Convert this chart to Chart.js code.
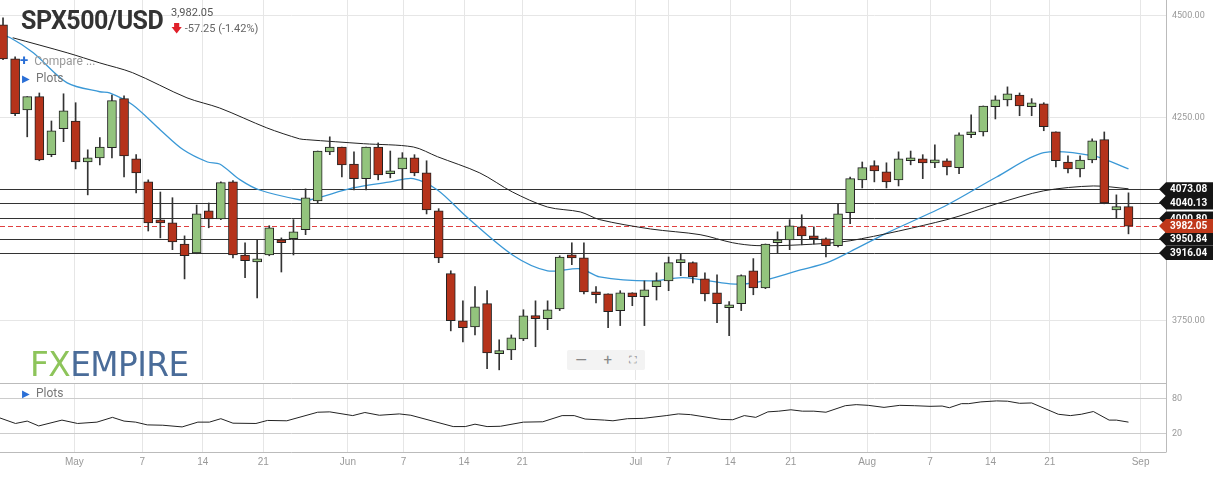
<!DOCTYPE html>
<html><head><meta charset="utf-8">
<script src="https://cdn.jsdelivr.net/npm/chart.js@4.4.0/dist/chart.umd.min.js"></script>
<style>
body{margin:0;background:#fff;width:1216px;height:478px;overflow:hidden;font-family:Roboto,"Open Sans",sans-serif;position:relative}
#c1{position:absolute;left:0;top:0}
#c2{position:absolute;left:0;top:380px}
.t{position:absolute;white-space:nowrap}
</style></head><body>
<canvas id="c1" width="1216" height="380"></canvas>
<canvas id="c2" width="1216" height="98"></canvas>
<div class="t" style="left:21px;top:6px;font-size:25px;font-weight:bold;color:#333;letter-spacing:-0.5px">SPX500/USD</div>
<div class="t" style="left:171px;top:6px;font-size:11px;color:#555">3,982.05</div>
<div class="t" style="left:171px;top:20px;font-size:11px;color:#666"><span style="color:#e0202a">&#129095;</span> -57.25 (-1.42%)</div>
<div class="t" style="left:20px;top:51px;font-size:12px;color:#999"><span style="color:#2a6fd6;font-weight:bold;font-size:15px">+</span>&nbsp; Compare ...</div>
<div class="t" style="left:22px;top:71px;font-size:12px;color:#777"><span style="color:#2a6fd6;font-size:10px">&#9654;</span>&nbsp; Plots</div>
<div class="t" style="left:22px;top:386px;font-size:12px;color:#777"><span style="color:#2a6fd6;font-size:10px">&#9654;</span>&nbsp; Plots</div>
<div class="t" style="left:30px;top:344px;font-size:34px;font-family:'Liberation Sans Narrow','DejaVu Sans Condensed',sans-serif;transform:scaleX(1.07);transform-origin:left;letter-spacing:-0.5px"><span style="color:#8dc45a">FX</span><span style="color:#4a6c99">EMPIRE</span></div>
<div class="t" style="left:567px;top:350px;width:78px;height:20px;background:#f3f3f3;border-radius:2px;font-size:15px;color:#888;display:flex;justify-content:space-around;align-items:center"><span>&#8212;</span><span>+</span><span style="font-size:11px">&#9974;</span></div>
<script>
const opens=[4478,4394,4268,4301,4158,4222,4241,4140,4150,4175,4296,4148,4091,3995,3990,3938,3916,4020,4000,4091,3911,3894,3911,3946,3951,3973,4044,4165,4177,4135,4099,4177,4111,4123,4150,4113,4020,3865,3749,3734,3791,3668,3677,3704,3759,3754,3778,3911,3904,3818,3815,3774,3818,3808,3833,3847,3892,3892,3852,3818,3781,3791,3872,3830,3941,3948,3980,3956,3951,3934,4015,4096,4131,4116,4096,4143,4148,4138,4143,4126,4207,4214,4276,4293,4305,4276,4283,4214,4140,4123,4145,4195,4022,4030];
const highs=[4495,4399,4301,4310,4241,4308,4286,4170,4200,4305,4303,4158,4096,4066,4052,3958,4034,4039,4091,4094,3941,3948,3983,3953,3998,4074,4167,4202,4177,4165,4177,4187,4167,4163,4158,4143,4025,3872,3798,3833,3823,3702,3714,3776,3798,3798,3909,3941,3941,3833,3815,3823,3818,3847,3867,3906,3914,3894,3867,3862,3796,3862,3902,3938,3968,3998,4010,3980,3953,4037,4103,4140,4143,4138,4165,4167,4158,4182,4148,4212,4256,4278,4303,4325,4310,4296,4286,4214,4155,4155,4197,4214,4059,4064];
const lows=[4392,4254,4202,4143,4153,4190,4123,4059,4133,4150,4103,4064,3970,3953,3924,3852,3914,3978,3998,3904,3855,3805,3909,3869,3911,3961,4039,4158,4103,4071,4071,4096,4101,4074,4106,4012,3892,3724,3697,3714,3631,3628,3653,3700,3685,3727,3774,3887,3815,3793,3732,3737,3786,3737,3800,3823,3860,3842,3798,3744,3712,3774,3813,3828,3916,3924,3936,3938,3906,3931,3988,4076,4091,4076,4081,4133,4099,4126,4108,4111,4200,4204,4246,4278,4254,4254,4217,4128,4113,4103,4138,4037,4002,3963];
const closes=[4394,4259,4301,4145,4217,4266,4140,4150,4177,4291,4155,4113,3990,3990,3943,3909,4012,4000,4089,3911,3897,3899,3978,3941,3968,4052,4167,4177,4133,4099,4177,4108,4118,4150,4113,4022,3904,3749,3732,3783,3670,3672,3707,3761,3754,3776,3906,3904,3820,3813,3771,3818,3808,3825,3847,3892,3899,3857,3815,3791,3786,3860,3830,3938,3946,3983,3958,3951,3934,4012,4099,4126,4118,4091,4148,4148,4138,4145,4128,4207,4214,4278,4293,4308,4278,4286,4227,4143,4123,4145,4192,4039,4030,3982];
const maFastX=[-0.25,0.6,2.5,5.3,8.0,8.8,10.7,13.0,14.9,16.9,17.9,19.6,21.2,24.5,25.4,28.9,32.0,33.9,35.9,38.3,42.1,45.0,47.7,49.3,53.5,56.2,60.1,62.0,65.9,68.1,70.0,73.1,78.0,82.1,86.0,90.1,93.0];
const maFastY=[4453,4446,4409,4335,4313,4310,4281,4219,4170,4140,4135,4096,4071,4047,4047,4076,4091,4099,4071,4005,3911,3872,3877,3857,3847,3855,3840,3842,3874,3892,3919,3966,4034,4103,4163,4155,4123];
const maSlowX=[0.8,5.3,8.0,10.7,15.2,17.9,21.8,24.5,25.1,29.8,33.9,35.9,39.4,42.1,45.0,47.7,49.3,53.5,57.6,60.3,62.3,65.9,70.0,78.0,82.1,86.0,90.1,93.0];
const maSlowY=[4446,4409,4384,4360,4298,4273,4224,4197,4195,4185,4177,4153,4113,4066,4029,4017,3998,3975,3961,3941,3934,3936,3946,3998,4037,4069,4081,4074];
const oscX=[-0.25,1.03,2.0,2.95,4.87,6.16,7.76,9.04,10.0,10.96,11.92,13.2,14.8,16.1,17.05,18.0,19.0,20.9,21.85,23.45,26.0,27.0,28.9,29.9,31.1,32.75,33.7,37.2,38.2,39.0,40.0,41.1,43.0,44.6,46.2,47.2,48.1,49.7,50.4,51.6,52.9,54.8,55.8,56.8,59.3,60.3,61.25,62.2,63.2,64.1,65.1,66.05,67.0,68.0,69.6,70.5,71.5,72.8,74.1,75.3,76.6,77.6,78.2,79.2,79.8,80.8,82.1,83.0,84.0,85.0,87.2,88.2,89.1,90.1,91.4,92.0,93.0];
const oscY=[46.5,37.1,41.2,32.9,42.9,37.1,39.4,47.6,41.2,39.4,34.7,34.1,31.2,39.4,39.4,45.3,37.6,37.1,42.3,41.7,56.4,57.0,50.6,55.9,51.2,53.5,51.2,31.8,31.8,35.9,31.8,32.3,39.4,40.0,50.6,50.6,44.7,42.9,41.7,45.3,45.9,50.6,53.5,52.3,44.1,43.5,50.6,47.6,57.0,58.2,60.6,58.2,58.2,56.4,67.6,69.4,68.2,64.7,68.2,67.6,66.5,67.0,64.1,71.1,71.1,74.1,75.8,75.3,71.7,72.3,52.9,50.6,52.9,57.6,42.9,42.9,39.4];
const tickPos=[5.9,11.5,16.5,21.5,28.5,33.1,38.1,42.9,52.3,55.0,60.1,65.1,71.4,76.6,81.6,86.5,94.0];
const tickLabels=['May','7','14','21','Jun','7','14','21','Jul','7','14','21','Aug','7','14','21','Sep'];
const priceTicks=[3750,4250,4500];
const levels=[4073.08,4040.13,4000.80,3950.84,3916.04];
const lastPrice=3982.05;
const oscTicks=[20,80];

const XMIN=-0.25,XMAX=96.1,YAW=50;
const up=closes.map((c,i)=>c>=opens[i]);
const bodyCol=up.map(u=>u?'#93c47d':'#b5331b');
const xOpts=(showLabels)=>({type:'linear',min:XMIN,max:XMAX,offset:false,
  afterBuildTicks:s=>{s.ticks=tickPos.map(v=>({value:v}));},
  ticks:{display:showLabels,autoSkip:false,maxRotation:0,color:'#999',font:{size:10},padding:4,
    callback:(v,i)=>tickLabels[i]},
  grid:{color:'#e6e6e6',drawTicks:false,offset:false},border:{display:false},
  afterFit:s=>{if(!showLabels)s.height=0;else s.height=26;}});
const yOpts=(min,max,ticks,grid)=>({position:'right',min,max,
  afterBuildTicks:s=>{s.ticks=ticks.map(v=>({value:v}));},
  afterFit:s=>{s.width=YAW;},
  ticks:{display:false},
  grid:{color:grid,drawTicks:false},border:{display:false}});
const yLabels=(ticks,fmt)=>({id:'yl',afterDraw(ch){const c=ch.ctx,ys=ch.scales.y,a=ch.chartArea;c.save();
  c.font='9px Roboto';c.fillStyle='#999';c.textBaseline='middle';
  ticks.forEach(v=>c.fillText(fmt(v),a.right+6,ys.getPixelForValue(v)));c.restore();}});

const levelPlugin={id:'lv',
 beforeDatasetsDraw(ch){const c=ch.ctx,ys=ch.scales.y,a=ch.chartArea;c.save();
  c.lineWidth=1;c.strokeStyle='#333';
  levels.forEach(v=>{const y=Math.round(ys.getPixelForValue(v))+0.5;c.beginPath();c.moveTo(0,y);c.lineTo(a.right,y);c.stroke();});
  const y=Math.round(ys.getPixelForValue(lastPrice))+0.5;c.strokeStyle='#e04040';c.setLineDash([5,3]);
  c.beginPath();c.moveTo(0,y);c.lineTo(a.right,y);c.stroke();c.restore();},
 afterDraw(ch){const c=ch.ctx,ys=ch.scales.y,a=ch.chartArea;c.save();
  c.strokeStyle='#bbb';c.beginPath();c.moveTo(a.right+0.5,0);c.lineTo(a.right+0.5,380);c.stroke();
  c.font='bold 10px Roboto';c.textBaseline='middle';
  const box=(v,col)=>{const y=ys.getPixelForValue(v);c.fillStyle=col;c.beginPath();
   c.moveTo(a.right-7,y);c.lineTo(a.right,y-7);c.lineTo(1213,y-7);c.lineTo(1213,y+7);c.lineTo(a.right,y+7);c.closePath();c.fill();
   c.fillStyle='#fff';c.fillText(v.toFixed(2),a.right+4,y+0.5);};
  levels.forEach(v=>box(v,'#151515'));box(lastPrice,'#c0391b');c.restore();}};

new Chart(document.getElementById('c1'),{
 data:{datasets:[
  {type:'line',data:maSlowX.map((x,i)=>({x,y:maSlowY[i]})),borderColor:'#222',borderWidth:1,pointRadius:0,tension:0.3,order:3},
  {type:'line',data:maFastX.map((x,i)=>({x,y:maFastY[i]})),borderColor:'#3a98d6',borderWidth:1.3,pointRadius:0,tension:0.3,order:3},
  {type:'bar',grouped:false,data:highs.map((h,i)=>({x:i,y:[lows[i],h]})),backgroundColor:'#333',barThickness:1,order:2},
  {type:'bar',grouped:false,data:opens.map((o,i)=>({x:i,y:[Math.min(o,closes[i]),Math.max(o,closes[i])]})),
   backgroundColor:bodyCol,borderColor:'#222',borderWidth:1,borderSkipped:false,barThickness:9,minBarLength:3,order:1}
 ]},
 options:{responsive:false,animation:false,devicePixelRatio:1,
  layout:{padding:0},
  plugins:{legend:{display:false},tooltip:{enabled:false}},
  scales:{x:xOpts(false),y:yOpts(3603,4539,priceTicks,'#e6e6e6')}},
 plugins:[levelPlugin,yLabels(priceTicks,v=>v.toFixed(2))]});

new Chart(document.getElementById('c2'),{
 data:{datasets:[{type:'line',data:oscX.map((x,i)=>({x,y:oscY[i]})),borderColor:'#222',borderWidth:1,pointRadius:0,tension:0}]},
 options:{responsive:false,animation:false,devicePixelRatio:1,
  layout:{padding:{top:3}},
  plugins:{legend:{display:false},tooltip:{enabled:false}},
  scales:{x:xOpts(true),y:yOpts(-11.8,106.5,oscTicks,'#ccc')}},
 plugins:[yLabels(oscTicks,v=>String(v)),{id:'bd',afterDraw(ch){const c=ch.ctx,a=ch.chartArea;c.save();c.strokeStyle='#bbb';
   c.beginPath();c.moveTo(0,a.top+0.5);c.lineTo(a.right,a.top+0.5);c.moveTo(0,a.bottom+0.5);c.lineTo(a.right+0.5,a.bottom+0.5);
   c.moveTo(a.right+0.5,0);c.lineTo(a.right+0.5,a.bottom);c.stroke();c.restore();}}]});
</script>
</body></html>
